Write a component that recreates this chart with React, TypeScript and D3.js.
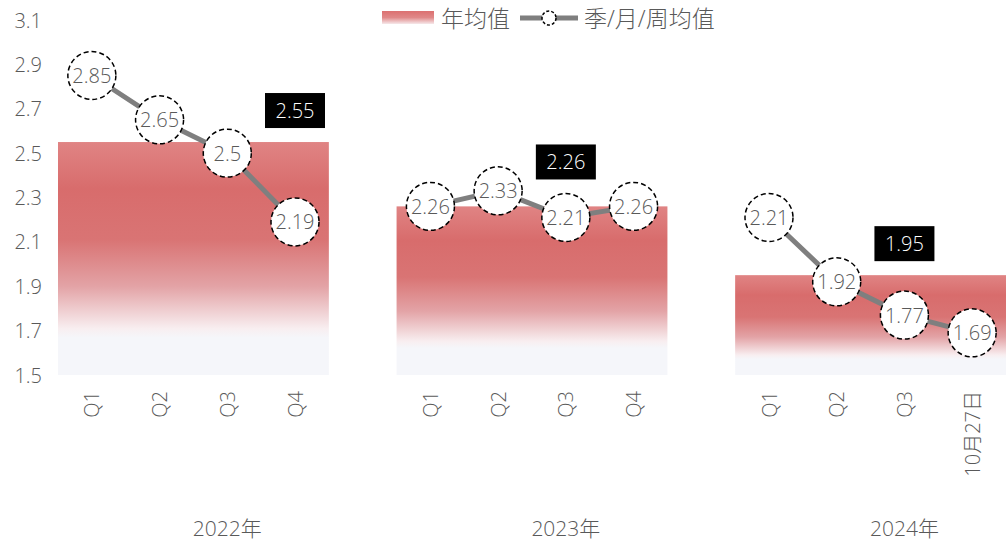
import * as d3 from 'd3';

const years = ['2022年', '2023年', '2024年'];
const periods = [
  ['Q1', 'Q2', 'Q3', 'Q4'],
  ['Q1', 'Q2', 'Q3', 'Q4'],
  ['Q1', 'Q2', 'Q3', '10月27日'],
];
const yearAvg = [2.55, 2.26, 1.95];
const periodVals = [
  [2.85, 2.65, 2.5, 2.19],
  [2.26, 2.33, 2.21, 2.26],
  [2.21, 1.92, 1.77, 1.69],
];
// which period slot carries the black year-average label
const labelSlot = [3, 2, 2];
const yTicks = [1.5, 1.7, 1.9, 2.1, 2.3, 2.5, 2.7, 2.9, 3.1];

const W = 1006;
const H = 542;
const FONT = '"Open Sans", "Noto Sans CJK SC", sans-serif';
const GREY = '#595959';

export default function App() {
  // one band per period, plus one empty band between years
  const slots: string[] = [];
  years.forEach((_, g) => {
    periods[g].forEach((_, i) => slots.push(`${g}-${i}`));
    if (g < years.length - 1) slots.push(`gap-${g}`);
  });
  const x = d3.scaleBand().domain(slots).range([58, W]).padding(0);
  const y = d3.scaleLinear().domain([1.5, 3.1]).range([375, 20]);
  const bw = x.bandwidth();

  return (
    <div style={{ position: 'fixed', left: 0, top: 0, width: W, height: H, background: '#fff' }}>
      <svg width={W} height={H} style={{ display: 'block', fontFamily: FONT }}>
        <defs>
          <linearGradient id="barGrad" x1="0" y1="0" x2="0" y2="1">
            <stop offset="0" stopColor="#e08484" />
            <stop offset="0.2" stopColor="#d86c6c" />
            <stop offset="0.42" stopColor="#d97474" />
            <stop offset="0.62" stopColor="#e3a3a6" />
            <stop offset="0.8" stopColor="#f8eef0" />
            <stop offset="0.84" stopColor="#f5f6fa" />
            <stop offset="1" stopColor="#f5f6fa" />
          </linearGradient>
          <linearGradient id="legGrad" x1="0" y1="0" x2="0" y2="1">
            <stop offset="0" stopColor="#dc7070" />
            <stop offset="0.5" stopColor="#e08888" />
            <stop offset="1" stopColor="#f6e8ea" />
          </linearGradient>
        </defs>

        {/* y axis labels */}
        {yTicks.map(t => (
          <text key={t} x={42} y={y(t)} textAnchor="end" dominantBaseline="central"
            fontSize={20} fill={GREY} fontWeight={300}>{t.toFixed(1)}</text>
        ))}

        {years.map((yr, g) => {
          const first = x(`${g}-0`)!;
          const last = x(`${g}-${periods[g].length - 1}`)! + bw;
          const top = y(yearAvg[g]);
          const pts = periodVals[g].map((v, i) => [x(`${g}-${i}`)! + bw / 2, y(v)] as [number, number]);
          const path = d3.line()(pts);
          const ls = labelSlot[g];
          const lx = x(`${g}-${ls}`)! + bw / 2;
          const circleTop = y(periodVals[g][ls]) - 24;
          const lBottom = Math.min(top, circleTop) - 14;
          const yearCenter = first + (bw * (periods[g].length + 1)) / 2;
          return (
            <g key={yr}>
              <rect x={first} y={top} width={last - first} height={y(1.5) - top} fill="url(#barGrad)" />
              <path d={path!} fill="none" stroke="#7f7f7f" strokeWidth={5} />
              {periodVals[g].map((v, i) => (
                <g key={i} transform={`translate(${pts[i][0]},${pts[i][1]})`}>
                  <circle r={24} fill="#fff" stroke="#000" strokeWidth={1.5} strokeDasharray="5,3" />
                  <text textAnchor="middle" dominantBaseline="central" fontSize={20}
                    fill={GREY} fontWeight={300}>{String(v)}</text>
                </g>
              ))}
              <rect x={lx - 30} y={lBottom - 35} width={60} height={35} fill="#000" />
              <text x={lx} y={lBottom - 17.5} textAnchor="middle" dominantBaseline="central"
                fontSize={20} fill="#fff" fontWeight={300}>{yearAvg[g].toFixed(2)}</text>
              {periods[g].map((p, i) => {
                const cx = x(`${g}-${i}`)! + bw / 2;
                return (
                  <text key={p + i} transform={`translate(${cx},391) rotate(-90)`} textAnchor="end"
                    dominantBaseline="central" fontSize={20} fill={GREY} fontWeight={300}>{p}</text>
                );
              })}
              <text x={yearCenter} y={528} textAnchor="middle" dominantBaseline="central"
                fontSize={21} fill={GREY} fontWeight={300}>{yr}</text>
            </g>
          );
        })}

        {/* legend */}
        <g>
          <rect x={382} y={11} width={52} height={13} fill="url(#legGrad)" />
          <text x={441} y={18} dominantBaseline="central" fontSize={23} fill={GREY} fontWeight={300}>年均值</text>
          <line x1={520} x2={578} y1={18} y2={18} stroke="#7f7f7f" strokeWidth={5} />
          <circle cx={549} cy={18} r={7} fill="#fff" stroke="#000" strokeWidth={1.5} strokeDasharray="3,2" />
          <text x={584} y={18} dominantBaseline="central" fontSize={23} fill={GREY} fontWeight={300}>季/月/周均值</text>
        </g>
      </svg>
    </div>
  );
}
